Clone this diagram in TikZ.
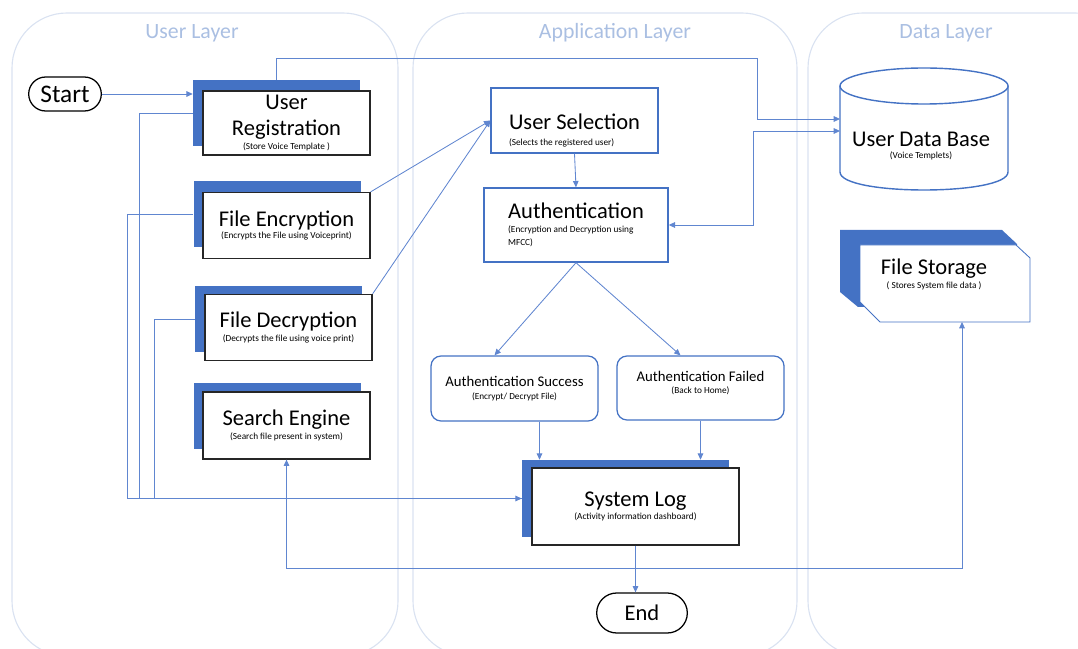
\documentclass[tikz,border=0pt]{standalone}
\usepackage{fontspec}
\setmainfont{Carlito}
\usetikzlibrary{arrows.meta, positioning, calc, shapes.misc}
\definecolor{blueshade}{RGB}{68,114,196}
\definecolor{flowblue}{RGB}{96,134,208}
\definecolor{laneline}{RGB}{218,226,241}
\definecolor{lanetext}{RGB}{170,191,226}
\newcommand{\pxl}{0.025cm}
\newcommand{\bigtxt}{\fontsize{16}{19}\selectfont}
\newcommand{\midtxt}{\fontsize{10.5}{12}\selectfont}
\newcommand{\smalltxt}{\fontsize{6.6}{7.8}\selectfont}
\tikzset{
  lane/.style={draw=laneline, line width=0.8pt, rounded corners=1.375cm},
  lanetitle/.style={text=lanetext, font=\fontsize{15.5}{18}\selectfont},
  backbox/.style={fill=blueshade, minimum width=167*\pxl, minimum height=66*\pxl, inner sep=0pt},
  frontbox/.style={draw=black!85, line width=0.9pt, fill=white, minimum width=167*\pxl,
    minimum height=66*\pxl, align=center, inner sep=1pt, font=\bigtxt},
  plainbox/.style={draw=blueshade, line width=1pt, fill=white, align=left, inner sep=1pt, font=\bigtxt},
  resultbox/.style={draw=blueshade, line width=0.9pt, rounded corners=0.25cm, fill=white,
    align=center, minimum width=167*\pxl, minimum height=65*\pxl, font=\midtxt},
  terminal/.style={rounded rectangle, draw=black, line width=0.9pt, fill=white},
  textonly/.style={align=center, inner sep=1pt, font=\bigtxt},
  dbline/.style={draw=blueshade, line width=1pt},
  flow/.style={draw=flowblue, line width=0.6pt},
  arr/.style={-{Triangle[length=4.5pt,width=4pt]}},
  arrboth/.style={{Triangle[length=4.5pt,width=4pt]}-{Triangle[length=4.5pt,width=4pt]}}
}
\begin{document}
\begin{tikzpicture}[x=0.025cm, y=-0.025cm]
  \useasboundingbox (0,0) rectangle (1078,649);
  \clip (0,0) rectangle (1078,649);

  % layers
  \draw[lane] (12,13) rectangle (398,656);
  \draw[lane] (413,13) rectangle (797,656);
  \draw[lane] (808,13) rectangle (1130,656);
  \node[lanetitle] (ul) at (192,33) {User Layer};
  \node[lanetitle] (al) at (615,33) {Application Layer};
  \node[lanetitle] (dl) at (946,33) {Data Layer};

  % user layer
  \node[terminal, minimum width=82*\pxl, minimum height=34*\pxl, font=\fontsize{18}{20}\selectfont] (start) at (65,94) {Start};

  \node[backbox] (regb) at (276.5,113.5) {};
  \node[frontbox, minimum height=64*\pxl] (reg) at (286.5,123) {User\\Registration\\[-9pt]{\smalltxt (Store Voice Template )}};
  \node[backbox] (encb) at (277,214) {};
  \node[frontbox] (enc) at (286.5,225.5) {File Encryption\\[-10pt]{\smalltxt (Encrypts the File using Voiceprint)}};
  \node[backbox] (decb) at (278.5,319) {};
  \node[frontbox] (dec) at (288.5,327.5) {File Decryption\\[-9pt]{\smalltxt (Decrypts the file using voice print)}};
  \node[backbox] (srchb) at (277,416) {};
  \node[frontbox, minimum height=67*\pxl] (srch) at (286.5,425.5) {Search Engine\\[-9pt]{\smalltxt (Search file present in system)}};

  % application layer
  \node[plainbox, minimum width=167*\pxl, minimum height=65*\pxl] (sel) at (574.5,120.5) {\rule{0pt}{25pt}User Selection\\[-8pt]{\smalltxt (Selects the registered user)}};
  \node[plainbox, minimum width=184*\pxl, minimum height=74*\pxl] (auth) at (576,225) {Authentication\\[-9pt]{\smalltxt (Encryption and Decryption using}\\[-10pt]{\smalltxt MFCC)}};
  \node[resultbox] (succ) at (514.5,388.5) {Authentication Success\\[-3pt]{\smalltxt (Encrypt/ Decrypt File)}};
  \node[resultbox, minimum height=64*\pxl] (fail) at (700.5,388) {Authentication Failed\\[-3pt]{\smalltxt (Back to Home)}\rule[-8pt]{0pt}{8pt}};
  \node[backbox, minimum width=207*\pxl, minimum height=77*\pxl] (logb) at (625.5,498.5) {};
  \node[frontbox, minimum width=207*\pxl, minimum height=77*\pxl] (log) at (635.5,506.5) {System Log\\[-10pt]{\smalltxt (Activity information dashboard)}};
  \node[terminal, minimum width=100*\pxl, minimum height=40*\pxl, font=\bigtxt] (finish) at (642,613) {End};

  % data layer
  \draw[dbline, fill=white] (840,86) -- (840,172) .. controls (840,196) and (1008,196) .. (1008,172) -- (1008,86);
  \draw[dbline, fill=white] (924,86) ellipse [x radius=2.1cm, y radius=0.45cm];
  \node[textonly] (db) at (921,146) {User Data Base\\[-10pt]{\smalltxt (Voice Templets)}};
  \coordinate (dbin1) at (840,119);
  \coordinate (dbin2) at (840,131);

  \fill[blueshade] (840,230) -- (1002,230) -- (1017,244) -- (1017,307) -- (858,307) -- (840,292) -- cycle;
  \draw[draw=blueshade, line width=0.6pt, fill=white] (860,245) -- (1016,245) -- (1030,258) -- (1030,322) -- (880,322) -- (860,302) -- cycle;
  \node[textonly] (stor) at (934,274) {File Storage\\[-9pt]{\smalltxt ( Stores System file data )}};
  \coordinate (storin) at (962,322);

  % connectors
  \draw[flow, arr] (start.east) -- (start.east -| regb.west);
  \draw[flow, arr] (regb.north) |- (757,58) |- (dbin1);
  \draw[flow, arrboth] (auth.east) -| (753,131) -- (dbin2);
  \draw[flow] (regb.west) -- ++(-53,0) |- (logb.west);
  \draw[flow] (decb.west) -- ++(-40,0) |- (logb.west);
  \draw[flow, arr] (encb.west) -- ++(-66,0) |- (logb.west);
  \draw[flow, arr] (enc.north east) -- (sel.west);
  \draw[flow, arr] (dec.north east) -- (sel.west);
  \draw[flow, arr] (sel.south) -- (auth.north);
  \draw[flow, arr] (auth.south) -- ($(succ.north)+(-20,0)$);
  \draw[flow, arr] (auth.south) -- ($(fail.north)+(-20,0)$);
  \coordinate (s1) at ($(succ.south)+(25,0)$);
  \draw[flow, arr] (s1) -- (s1 |- logb.north);
  \draw[flow, arr] (fail.south) -- (fail.south |- logb.north);
  \draw[flow, arr] (log.south) -- (log.south |- finish.north);
  \draw[flow, arrboth] (srch.south) -- ++(0,109) -| (storin);
\end{tikzpicture}
\end{document}
